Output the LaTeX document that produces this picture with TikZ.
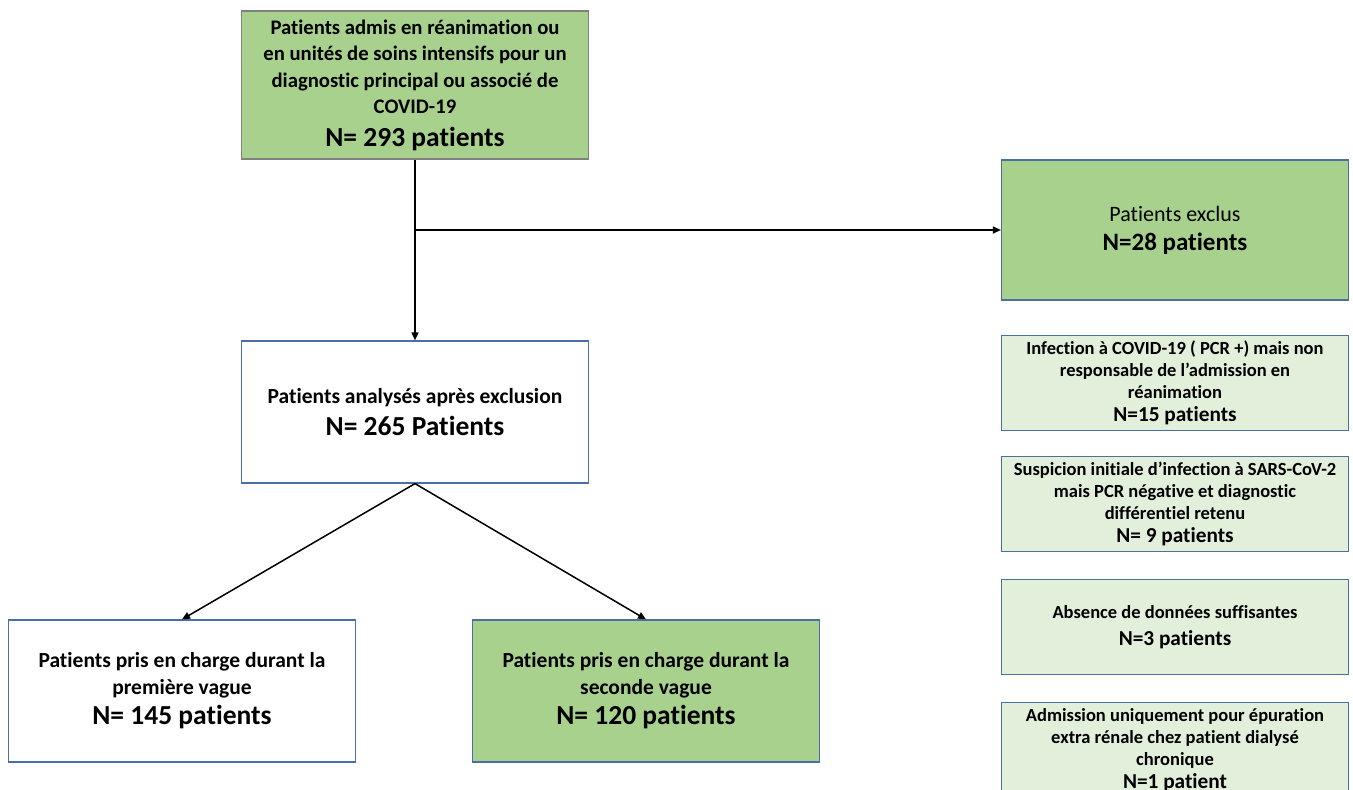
\documentclass[tikz,border=0pt]{standalone}
\usepackage{fontspec}
\setmainfont{Carlito}[Ligatures=NoCommon]
\usetikzlibrary{arrows.meta}

\definecolor{boxgreen}{HTML}{A9D18E}
\definecolor{palegreen}{HTML}{E2EFDA}
\definecolor{boxblue}{HTML}{4A6FA5}
\definecolor{boxgrey}{HTML}{808080}

\newcommand{\toptxt}{\fontsize{20.7}{26.5}\selectfont\bfseries}
\newcommand{\maintxt}{\fontsize{21.5}{26.5}\selectfont\bfseries}
\newcommand{\bigtxt}{\fontsize{27.5}{32}\selectfont\bfseries}
\newcommand{\sidetxt}{\fontsize{18.5}{22}\selectfont\bfseries}
\newcommand{\sidebig}{\fontsize{21.3}{24}\selectfont\bfseries}

\begin{document}
\begin{tikzpicture}[x=1pt,y=-1pt,
    flowbox/.style ={draw=boxblue, line width=1.2pt, align=center, inner sep=0pt,
                     minimum width=347pt, minimum height=142pt, font=\maintxt},
    sidebox/.style ={flowbox, fill=palegreen, minimum height=95pt, font=\sidetxt},
    flowarrow/.style ={line width=1.5pt, -{Triangle[length=8pt,width=7pt]}}]
   \useasboundingbox (0,0) rectangle (1353,790);

   \node[flowbox, fill=boxgreen, draw=boxgrey, minimum height=148pt, font=\toptxt] (admis) at (415,85)
      {Patients admis en réanimation ou\\ en unités de soins intensifs pour un\\
       diagnostic principal ou associé de\\ COVID-19\\[6pt] {\bigtxt N= 293 patients}};
   \node[flowbox, fill=boxgreen, minimum height=140pt, font=\fontsize{22}{29}\selectfont] (excl) at (1175,230)
      {Patients exclus\\ {\fontsize{25}{29}\selectfont\bfseries N=28 patients}};
   \node[flowbox] (analyse) at (415,412)
      {Patients analysés après exclusion\\[6pt] {\bigtxt N= 265 Patients}};
   \node[flowbox] (vague1) at (182,691)
      {Patients pris en charge durant la\\ première vague\\[4pt] {\bigtxt N= 145 patients}};
   \node[flowbox, fill=boxgreen] (vague2) at (646,691)
      {Patients pris en charge durant la\\ seconde vague\\[4pt] {\bigtxt N= 120 patients}};

   \node[sidebox] (pcr) at (1175,383)
      {Infection à COVID-19 ( PCR +) mais non\\ responsable de l’admission en\\
       réanimation\\[1pt] {\sidebig N=15 patients}};
   \node[sidebox] (suspicion) at (1175,504)
      {Suspicion initiale d’infection à SARS-CoV-2\\ mais PCR négative et diagnostic\\
       différentiel retenu\\[1pt] {\sidebig N= 9 patients}};
   \node[sidebox] (donnees) at (1175,627)
      {Absence de données suffisantes\\[5pt] {\sidebig N=3 patients}};
   \node[sidebox] (dialyse) at (1175,750)
      {Admission uniquement pour épuration\\ extra rénale chez patient dialysé\\
       chronique\\[1pt] {\sidebig N=1 patient}};

   \coordinate (split) at (415,230);

   \draw[flowarrow] (admis) -- (analyse);
   \draw[flowarrow] (split) -- (excl);
   \draw[flowarrow] (analyse.south) -- (vague1.north);
   \draw[flowarrow] (analyse.south) -- (vague2.north);
 \end{tikzpicture}
\end{document}
